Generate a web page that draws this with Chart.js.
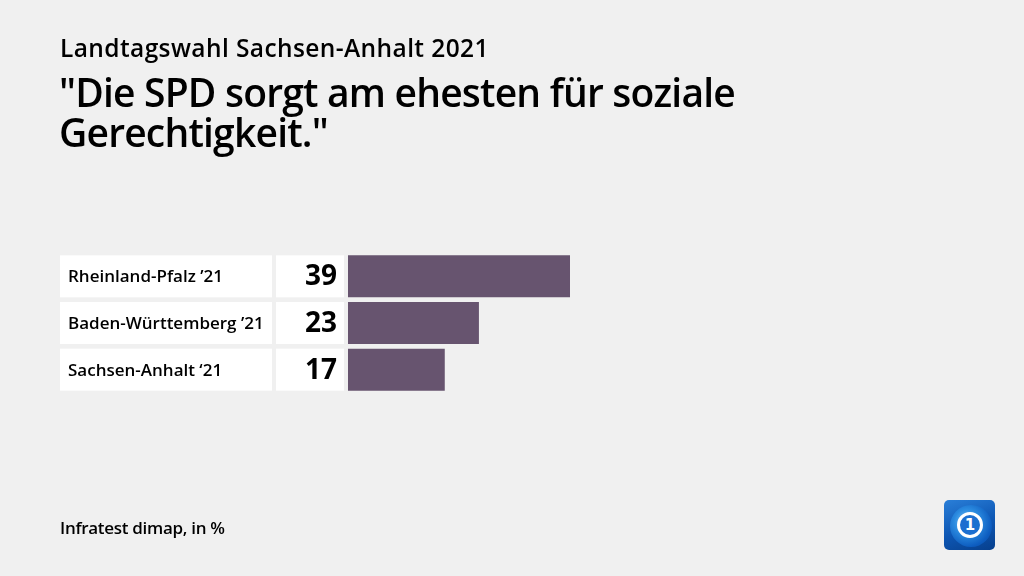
<!DOCTYPE html>
<html>
<head>
<meta charset="utf-8">
<script src="https://cdn.jsdelivr.net/npm/chart.js@4"></script>
<style>
  html, body { margin: 0; padding: 0; background: #f0f0f0; }
  #wrap { position: relative; width: 1024px; height: 576px; overflow: hidden; font-family: "Open Sans", "Noto Sans", sans-serif; color: #000; }
  #chart { position: absolute; left: 0; top: 0; }
  .sub { position: absolute; left: 60px; top: 31px; font-size: 24.5px; font-weight: 600; letter-spacing: 0.4px; }
  .title { position: absolute; left: 59px; top: 72px; font-size: 39px; font-weight: 600; line-height: 40px; letter-spacing: -0.8px; }
  .src { position: absolute; left: 60px; top: 516px; font-size: 17px; font-weight: 600; letter-spacing: -0.3px; }
  .logo { position: absolute; left: 944px; top: 500px; width: 51px; height: 50px; border-radius: 5px; overflow: hidden;
          background: linear-gradient(160deg, #2a7fd8 0%, #0d56b3 55%, #073f8c 100%); }
  .logo .globe { position: absolute; left: 6px; top: 5px; width: 42px; height: 42px; border-radius: 50%;
          background: radial-gradient(circle at 40% 40%, #7cc4f5 0%, #2b8be0 35%, #0d5cbf 70%, #0a4aa0 100%); }
  .logo .ring { position: absolute; left: 13px; top: 12px; width: 20px; height: 20px; border-radius: 50%;
          border: 3px solid #fff; background: #1c6fd0; color: #fff; font: bold 15px "DejaVu Sans", sans-serif;
          text-align: center; line-height: 20px; }
</style>
</head>
<body>
<div id="wrap">
  <canvas id="chart" width="1024" height="576"></canvas>
  <div class="sub">Landtagswahl Sachsen-Anhalt 2021</div>
  <div class="title">"Die SPD sorgt am ehesten für soziale<br>Gerechtigkeit."</div>
  <div class="src">Infratest dimap, in %</div>
  <div class="logo"><div class="globe"></div><div class="ring">1</div></div>
</div>
<script>
const categories = ['Rheinland-Pfalz \u201921', 'Baden-Württemberg \u201921', 'Sachsen-Anhalt \u201821'];
const values = [39, 23, 17];
const barColor = '#67546f';

// white label and number boxes beside each bar
const rowBoxes = {
  id: 'rowBoxes',
  beforeDatasetsDraw(chart) {
    const ctx = chart.ctx;
    const meta = chart.getDatasetMeta(0);
    ctx.save();
    meta.data.forEach((bar, i) => {
      const top = bar.y - bar.height / 2;
      const h = bar.height;
      ctx.fillStyle = '#ffffff';
      ctx.fillRect(60, top, 212, h);
      ctx.fillRect(276, top, 68, h);
      ctx.fillStyle = '#000';
      ctx.textBaseline = 'middle';
      ctx.textAlign = 'left';
      ctx.font = '600 17px "Open Sans", sans-serif';
      ctx.fillText(categories[i], 68, bar.y + 1);
      ctx.textAlign = 'right';
      ctx.font = '700 28px "Open Sans", sans-serif';
      ctx.fillText(String(values[i]), 337, bar.y + 1);
    });
    ctx.restore();
  }
};

new Chart(document.getElementById('chart'), {
  type: 'bar',
  data: {
    labels: categories,
    datasets: [{
      data: values,
      backgroundColor: barColor,
      barPercentage: 0.9,
      categoryPercentage: 1.0,
    }],
  },
  options: {
    indexAxis: 'y',
    responsive: false,
    animation: false,
    events: [],
    layout: { padding: { left: 348, right: 1024 - 348 - 222 / 39 * 50, top: 253, bottom: 576 - 393 } },
    scales: {
      x: { display: false, min: 0, max: 50 },
      y: { display: false },
    },
    plugins: { legend: { display: false }, tooltip: { enabled: false } },
  },
  plugins: [rowBoxes],
});
</script>
</body>
</html>
